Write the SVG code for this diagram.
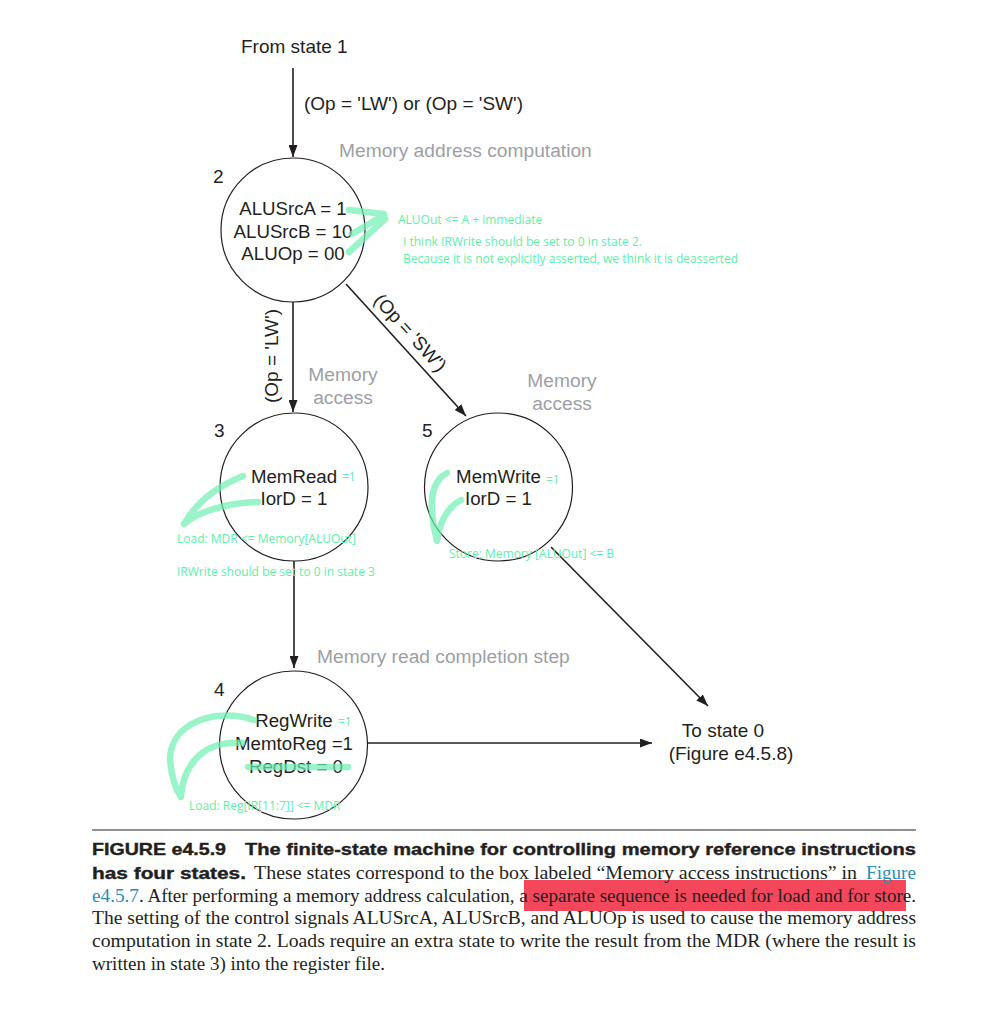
<svg xmlns="http://www.w3.org/2000/svg" width="1003" height="1014" viewBox="0 0 1003 1014">
<defs>
<style>
.lbl{font-family:"Liberation Sans",Arial,sans-serif;font-size:19px;fill:#231f20}
.st{font-family:"Liberation Sans",Arial,sans-serif;font-size:18.7px;fill:#231f20;text-anchor:middle}
.gray{font-family:"Liberation Sans",Arial,sans-serif;font-size:19.2px;fill:#9c9fa5}
.node{fill:#fff;stroke:#231f20;stroke-width:1.2}
.edge{stroke:#231f20;stroke-width:1.6;fill:none;marker-end:url(#ah)}
.gt{font-family:"Open Sans","Noto Sans",sans-serif;font-size:12px;fill:#5ef0a8}
.gs{fill:none;stroke:#6ff0b4;stroke-width:6.5;stroke-linecap:round;stroke-linejoin:round;opacity:0.7}
.cap{font-family:"Liberation Serif","Times New Roman",serif;font-size:18px;fill:#231f20}
.capb{font-family:"Liberation Sans",Arial,sans-serif;font-size:17px;font-weight:bold;fill:#231f20;stroke:#231f20;stroke-width:0.4}
.blue{fill:#2a8cb8}
</style>
<marker id="ah" markerUnits="userSpaceOnUse" markerWidth="13" markerHeight="9" refX="12" refY="4.5" orient="auto">
<path d="M0,0 L12,4.5 L0,9 z" fill="#231f20"/>
</marker>
</defs>
<rect width="1003" height="1014" fill="#fff"/>

<g id="connectors">
<line class="edge" x1="293" y1="68" x2="293" y2="157"/>
<line class="edge" x1="293" y1="302" x2="293" y2="412"/>
<line class="edge" x1="346" y1="284" x2="466" y2="416"/>
<line class="edge" x1="294" y1="561" x2="294" y2="668"/>
<line class="edge" x1="551" y1="547" x2="708" y2="706"/>
<line class="edge" x1="368" y1="743" x2="652" y2="743"/>
<text class="lbl" x="304" y="110">(Op = 'LW') or (Op = 'SW')</text>
<text class="lbl" transform="translate(278,356) rotate(-90)" text-anchor="middle">(Op = 'LW')</text>
<text class="lbl" transform="translate(410,333) rotate(47.7)" text-anchor="middle" dy="6">(Op = 'SW')</text>
</g>

<g id="start">
<text class="lbl" x="241" y="53">From state 1</text>
</g>

<g id="state2">
<circle class="node" cx="293" cy="230" r="72"/>
<text class="lbl" x="213" y="183">2</text>
<text class="gray" x="339" y="157">Memory address computation</text>
<text class="st" x="293" y="215">ALUSrcA = 1</text>
<text class="st" x="293" y="238">ALUSrcB = 10</text>
<text class="st" x="293" y="260">ALUOp = 00</text>
</g>

<g id="state3">
<circle class="node" cx="294" cy="487" r="74"/>
<text class="lbl" x="214" y="437">3</text>
<text class="gray" x="343" y="381" text-anchor="middle">Memory</text>
<text class="gray" x="343" y="404" text-anchor="middle">access</text>
<text class="st" x="294" y="483">MemRead</text>
<text class="st" x="294" y="505">IorD = 1</text>
</g>

<g id="state5">
<circle class="node" cx="498.5" cy="487" r="74"/>
<text class="lbl" x="422" y="437">5</text>
<text class="gray" x="562" y="387" text-anchor="middle">Memory</text>
<text class="gray" x="562" y="410" text-anchor="middle">access</text>
<text class="st" x="498.5" y="483">MemWrite</text>
<text class="st" x="498.5" y="505">IorD = 1</text>
</g>

<g id="state4">
<circle class="node" cx="293.5" cy="745" r="74"/>
<text class="lbl" x="214" y="696">4</text>
<text class="gray" x="317" y="663">Memory read completion step</text>
<text class="st" x="294" y="727">RegWrite</text>
<text class="st" x="294" y="750">MemtoReg =1</text>
<text class="st" x="296" y="773">RegDst = 0</text>
</g>

<g id="end">
<text class="lbl" x="723" y="737" text-anchor="middle">To state 0</text>
<text class="lbl" x="731" y="760" text-anchor="middle">(Figure e4.5.8)</text>
</g>

<g id="annotations">
<path class="gs" d="M349,210 L384,214 M384,215 L352,234 M385,219 L349,252"/>
<path class="gs" d="M243,476 C215,487 195,505 184,524 C200,510 230,503 258,502"/>
<path class="gs" d="M447,473 C430,482 428,505 437,541 C440,520 448,507 461,500"/>
<path class="gs" d="M254,720 C220,708 170,720 170,760 C172,780 176,790 181,797 C182,775 195,740 242,743"/>
<path class="gs" d="M248,767 L348,767"/>
<text class="gt" x="398" y="224">ALUOut &lt;= A + immediate</text>
<text class="gt" x="403" y="246">I think IRWrite should be set to 0 in state 2.</text>
<text class="gt" x="403" y="263">Because it is not explicitly asserted, we think it is deasserted</text>
<text class="gt" x="342" y="481">=1</text>
<text class="gt" x="546" y="484">=1</text>
<text class="gt" x="338" y="726">=1</text>
<text class="gt" x="177" y="543">Load: MDR &lt;= Memory[ALUOut]</text>
<text class="gt" x="177" y="576">IRWrite should be set to 0 in state 3</text>
<text class="gt" x="449" y="558">Store; Memory [ALUOut] &lt;= B</text>
<text class="gt" x="189" y="810">Load: Reg[IR[11:7]] &lt;= MDR</text>
</g>

<g id="caption">
<line x1="92" y1="830" x2="916" y2="830" stroke="#231f20" stroke-width="1.2"/>
<rect x="524" y="880" width="382" height="31" fill="#f5475b"/>
<text class="capb" x="92" y="855" textLength="134" lengthAdjust="spacingAndGlyphs">FIGURE e4.5.9</text>
<text class="capb" x="245" y="855" textLength="671" lengthAdjust="spacingAndGlyphs">The finite-state machine for controlling memory reference instructions</text>
<text class="capb" x="92" y="879" textLength="154" lengthAdjust="spacingAndGlyphs">has four states.</text>
<text class="cap" x="254" y="879" textLength="603" lengthAdjust="spacingAndGlyphs">These states correspond to the box labeled “Memory access instructions” in</text>
<text class="cap blue" x="866" y="879" textLength="50" lengthAdjust="spacingAndGlyphs">Figure</text>
<text class="cap blue" x="92" y="902" textLength="47" lengthAdjust="spacingAndGlyphs">e4.5.7</text>
<text class="cap" x="139" y="902" textLength="777" lengthAdjust="spacingAndGlyphs">. After performing a memory address calculation, a separate sequence is needed for load and for store.</text>
<text class="cap" x="92" y="924" textLength="824" lengthAdjust="spacingAndGlyphs">The setting of the control signals ALUSrcA, ALUSrcB, and ALUOp is used to cause the memory address</text>
<text class="cap" x="92" y="947" textLength="824" lengthAdjust="spacingAndGlyphs">computation in state 2. Loads require an extra state to write the result from the MDR (where the result is</text>
<text class="cap" x="92" y="970" textLength="293" lengthAdjust="spacingAndGlyphs">written in state 3) into the register file.</text>
</g>
</svg>
